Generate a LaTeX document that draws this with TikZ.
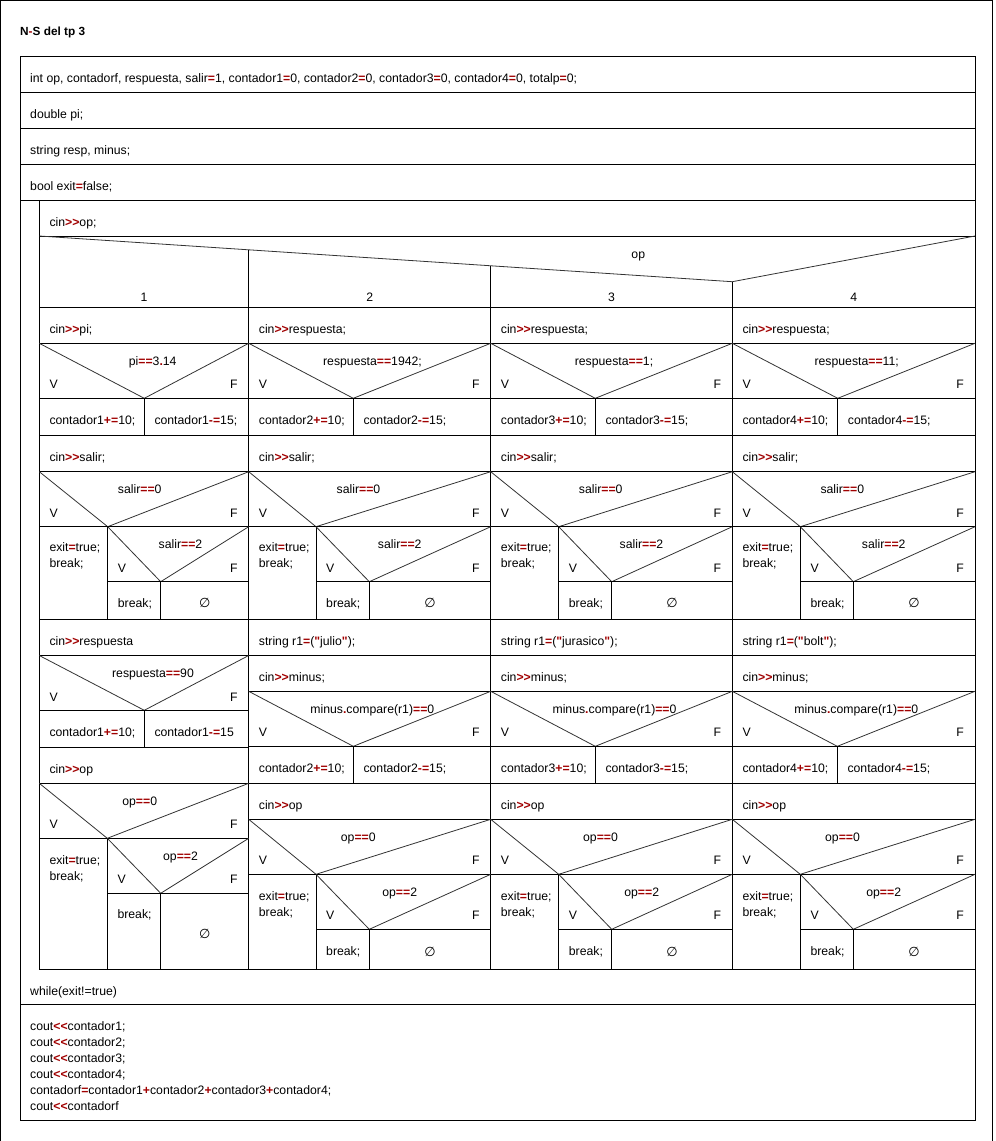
\documentclass[tikz,border=0pt]{standalone}
\usepackage{fontspec}
\setmainfont{Liberation Sans}[Ligatures=TeXOff]
\newfontfamily\symfont{DejaVu Sans}
\definecolor{opred}{RGB}{160,0,0}
\newcommand\ro[1]{\textcolor{opred}{\textbf{#1}}}
\newcounter{nd}
\newcommand\TxtL[3]{\stepcounter{nd}\edef\nn{n\arabic{nd}}\node[txt] (\nn) at ({#1},{#2}) {#3};}
\newcommand\TxtC[3]{\stepcounter{nd}\edef\nn{n\arabic{nd}}\node[txtc] (\nn) at ({#1},{#2}) {#3};}
\newcommand\TxtR[3]{\stepcounter{nd}\edef\nn{n\arabic{nd}}\node[txtr] (\nn) at ({#1},{#2}) {#3};}
\newcommand\Empty[2]{\stepcounter{nd}\edef\nn{n\arabic{nd}}\node[sym] (\nn) at ({#1},{#2}) {∅};}
% xl xr top bot apex labx label
\newcommand\Dec[7]{%
  \draw[diag] ({#1},{#3}) -- ({#5},{#4}) -- ({#2},{#3});
  \TxtC{#6}{#3+22}{#7}
  \TxtL{#1+10}{#3+45.5}{V}
  \TxtR{#2-11}{#3+45.5}{F}
  \draw[box] ({#1},{#4}) -- ({#2},{#4});}
\tikzset{
  txt/.style={anchor=base west, inner sep=0pt, font=\fontsize{12.25}{16}\selectfont},
  txtc/.style={anchor=base, inner sep=0pt, font=\fontsize{12.25}{16}\selectfont},
  txtr/.style={anchor=base east, inner sep=0pt, font=\fontsize{12.25}{16}\selectfont},
  sym/.style={anchor=center, inner sep=0pt, font=\symfont\fontsize{13}{14}\selectfont},
  box/.style={draw=black, line width=1pt},
  diag/.style={draw=black!80, line width=0.8pt},
  frame/.style={draw=black, line width=1.3pt}
}
\begin{document}
\begin{tikzpicture}[x=1pt,y=-1pt]
\useasboundingbox (0,0) rectangle (996,1141);
\draw[frame] (0.6,1141) -- (0.6,0.6) -- (992.5,0.6) -- (992.5,1141);
\TxtL{20}{35}{\fontsize{11.8}{14}\selectfont\textbf{N\ro{-}S del tp 3}}
% main frame
\draw[box] (20.7,56.7) rectangle (975,1120);
\foreach \yy in {92.3,128.3,164.3,200.3,1004} \draw[box] (20.7,\yy) -- (975,\yy);
\draw[box] (39.3,200.3) -- (39.3,969.3) -- (975,969.3);
\draw[box] (39.3,236) -- (975,236);
\TxtL{30}{82.7}{int op, contadorf, respuesta, salir\ro{=}1, contador1\ro{=}0, contador2\ro{=}0, contador3\ro{=}0, contador4\ro{=}0, totalp\ro{=}0;}
\TxtL{30}{118.5}{double pi;}
\TxtL{30}{154.5}{string resp, minus;}
\TxtL{30}{190.5}{bool exit\ro{=}false;}
\TxtL{49.3}{226.3}{cin\ro{>>}op;}
% switch
\draw[diag] (39.3,236) -- (732.3,281.7) -- (975,236);
\draw[box] (248.7,249.8) -- (248.7,307.3);
\draw[box] (490.7,265.8) -- (490.7,307.3);
\draw[box] (732.3,281.7) -- (732.3,307.3);
\TxtC{638.3}{258.3}{op}
\TxtC{144}{301.7}{1}
\TxtC{369.7}{301.7}{2}
\TxtC{611.5}{301.7}{3}
\TxtC{853.7}{301.7}{4}
\foreach \yy in {307.3,343.3,435.3,471.7,619.3} \draw[box] (39.3,\yy) -- (975,\yy);
\foreach \xx in {248.7,490.7,732.3} \draw[box] (\xx,307.3) -- (\xx,969.3);
% column tops
\TxtL{49.3}{333.3}{cin\ro{>>}pi;}
\Dec{39.3}{248.7}{343.3}{398.3}{144.3}{152.7}{pi\ro{==}3\ro{.}14}
\draw[box] (144.3,398.3) -- (144.3,435.3);
\TxtL{49.3}{424.3}{contador1\ro{+=}10;}
\TxtL{154.3}{424.3}{contador1\ro{-=}15;}
\TxtL{258.7}{333.3}{cin\ro{>>}respuesta;}
\Dec{248.7}{490.7}{343.3}{398.3}{353.3}{372.5}{respuesta\ro{==}1942;}
\draw[box] (353.3,398.3) -- (353.3,435.3);
\TxtL{258.7}{424.3}{contador2\ro{+=}10;}
\TxtL{363.3}{424.3}{contador2\ro{-=}15;}
\TxtL{500.7}{333.3}{cin\ro{>>}respuesta;}
\Dec{490.7}{732.3}{343.3}{398.3}{595.3}{614}{respuesta\ro{==}1;}
\draw[box] (595.3,398.3) -- (595.3,435.3);
\TxtL{500.7}{424.3}{contador3\ro{+=}10;}
\TxtL{605.3}{424.3}{contador3\ro{-=}15;}
\TxtL{742.3}{333.3}{cin\ro{>>}respuesta;}
\Dec{732.3}{975}{343.3}{398.3}{837.7}{856.7}{respuesta\ro{==}11;}
\draw[box] (837.7,398.3) -- (837.7,435.3);
\TxtL{742.3}{424.3}{contador4\ro{+=}10;}
\TxtL{847.7}{424.3}{contador4\ro{-=}15;}
% salir parts
\foreach \xl/\xr/\sa/\sb/\lx/\mx in {39.3/248.7/107.7/160.7/139.7/180.5, 248.7/490.7/316/369.3/358.5/399.7, 490.7/732.3/558.7/611.7/600.7/641.5, 732.3/975/800.3/853.3/842.3/883.7}{
  \TxtL{\xl+10}{461.3}{cin\ro{>>}salir;}
  \Dec{\xl}{\xr}{471.7}{526.7}{\sa}{\lx}{salir\ro{==}0}
  \draw[box] (\sa,526.7) -- (\sa,619.3);
  \TxtL{\xl+10}{551.7}{exit\ro{=}true;}
  \TxtL{\xl+10}{567.7}{break;}
  \Dec{\sa}{\xr}{526.7}{581.7}{\sb}{\mx}{salir\ro{==}2}
  \draw[box] (\sb,581.7) -- (\sb,619.3);
  \TxtL{\sa+10}{607}{break;}
  \Empty{(\sb+\xr)/2}{603}
}
% column 1 lower
\TxtL{49.3}{645.3}{cin\ro{>>}respuesta}
\draw[box] (39.3,655.5) -- (248.7,655.5);
\Dec{39.3}{248.7}{655.5}{710.3}{144.3}{153}{respuesta\ro{==}90}
\draw[box] (144.3,710.3) -- (144.3,747.3);
\TxtL{49.3}{736.3}{contador1\ro{+=}10;}
\TxtL{154.3}{736.3}{contador1\ro{-=}15}
\draw[box] (39.3,747.3) -- (248.7,747.3);
\TxtL{49.3}{773.3}{cin\ro{>>}op}
\draw[box] (39.3,783.3) -- (248.7,783.3);
\Dec{39.3}{248.7}{783.3}{838.3}{107.3}{139.7}{op\ro{==}0}
\draw[box] (107.3,838.3) -- (107.3,969.3);
\TxtL{49.3}{864}{exit\ro{=}true;}
\TxtL{49.3}{880}{break;}
\Dec{107.3}{248.7}{838.3}{893.3}{160.7}{180.5}{op\ro{==}2}
\draw[box] (160.7,893.3) -- (160.7,969.3);
\TxtL{117.3}{918.3}{break;}
\Empty{204.7}{934.3}
% columns 2-4 lower
\TxtL{258.7}{645.3}{string r1\ro{=}(\ro{"}julio\ro{"});}
\TxtL{500.7}{645.3}{string r1\ro{=}(\ro{"}jurasico\ro{"});}
\TxtL{742.3}{645.3}{string r1\ro{=}(\ro{"}bolt\ro{"});}
\foreach \xl/\xr/\ap/\lx/\cn in {248.7/490.7/353.3/372.3/2, 490.7/732.3/595.3/614.5/3, 732.3/975/837.3/856.3/4}{
  \draw[box] (\xl,655.3) -- (\xr,655.3);
  \TxtL{\xl+10}{681.3}{cin\ro{>>}minus;}
  \draw[box] (\xl,691.3) -- (\xr,691.3);
  \Dec{\xl}{\xr}{691.3}{746.3}{\ap}{\lx}{minus\ro{.}compare(r1)\ro{==}0}
  \draw[box] (\ap,746.3) -- (\ap,783.3);
  \TxtL{\xl+10}{772.3}{contador\cn\ro{+=}10;}
  \TxtL{\ap+10}{772.3}{contador\cn\ro{-=}15;}
  \draw[box] (\xl,783.3) -- (\xr,783.3);
}
\foreach \xl/\xr/\sa/\sb/\lx/\mx in {248.7/490.7/316/369.3/358.3/399.7, 490.7/732.3/558.7/611.7/600.5/641.7, 732.3/975/800.3/853.3/842.5/883.7}{
  \TxtL{\xl+10}{809.3}{cin\ro{>>}op}
  \draw[box] (\xl,819.3) -- (\xr,819.3);
  \Dec{\xl}{\xr}{819.3}{874.3}{\sa}{\lx}{op\ro{==}0}
  \draw[box] (\sa,874.3) -- (\sa,969.3);
  \TxtL{\xl+10}{900}{exit\ro{=}true;}
  \TxtL{\xl+10}{916}{break;}
  \Dec{\sa}{\xr}{874.3}{929.3}{\sb}{\mx}{op\ro{==}2}
  \draw[box] (\sb,929.3) -- (\sb,969.3);
  \TxtL{\sa+10}{955}{break;}
  \Empty{(\sb+\xr)/2}{952.3}
}
% bottom
\TxtL{30}{995}{while(exit!=true)}
\TxtL{30}{1030}{cout\ro{<<}contador1;}
\TxtL{30}{1046}{cout\ro{<<}contador2;}
\TxtL{30}{1062}{cout\ro{<<}contador3;}
\TxtL{30}{1078}{cout\ro{<<}contador4;}
\TxtL{30}{1094}{contadorf\ro{=}contador1\ro{+}contador2\ro{+}contador3\ro{+}contador4;}
\TxtL{30}{1110}{cout\ro{<<}contadorf}
\end{tikzpicture}
\end{document}
